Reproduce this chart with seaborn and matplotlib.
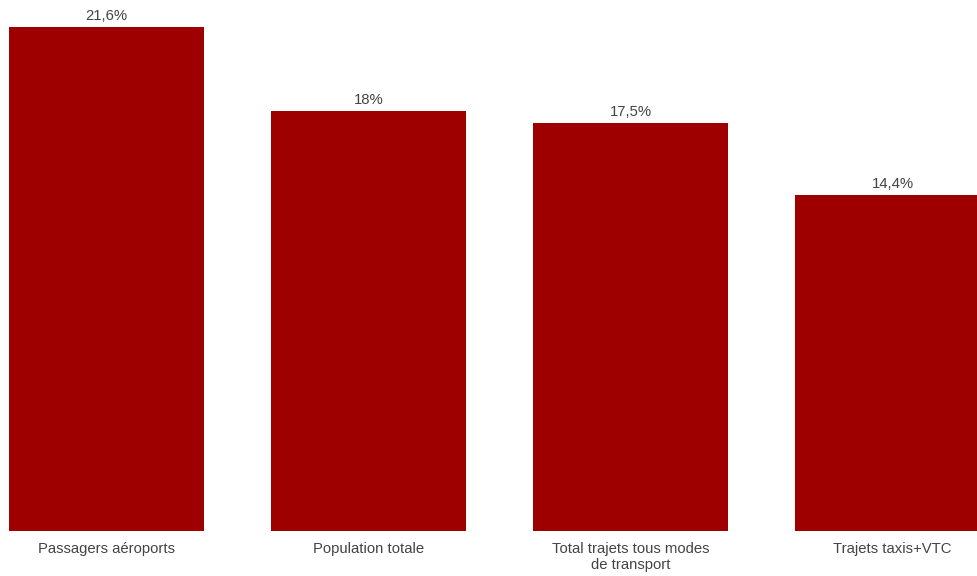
import matplotlib
matplotlib.use("Agg")
import matplotlib.pyplot as plt
import seaborn as sns

categories = ["Passagers aéroports", "Population totale",
              "Total trajets tous modes\nde transport", "Trajets taxis+VTC"]
values = [21.6, 18.0, 17.5, 14.4]

BAR_COLOR = "#9E0000"
TEXT_COLOR = "#444444"

sns.set_theme(style="white")
plt.rcParams["font.family"] = ["Liberation Sans", "DejaVu Sans"]

fig = plt.figure(figsize=(9.77, 5.76), dpi=100)
ax = fig.add_axes([0, 45 / 576, 1, 531 / 576])

sns.barplot(x=categories, y=values, color=BAR_COLOR, saturation=1,
            width=0.748, linewidth=0, ax=ax)

ax.set_xlim(-106.5 / 262, (977 - 106.5) / 262)
ax.set_ylim(0, 531 / 23.33)


def fr_pct(v):
    s = f"{v:.1f}".replace(".", ",")
    if s.endswith(",0"):
        s = s[:-2]
    return s + "%"


ax.bar_label(ax.containers[0], labels=[fr_pct(v) for v in values],
             padding=3, fontsize=10.7, color=TEXT_COLOR)

ax.tick_params(axis="x", length=0, pad=8, labelsize=10.7, labelcolor=TEXT_COLOR)
for lbl in ax.get_xticklabels():
    lbl.set_multialignment("center")
ax.set_yticks([])
ax.set_xlabel("")
ax.set_ylabel("")
for s in ax.spines.values():
    s.set_visible(False)

fig.savefig("out.png", dpi=100)
